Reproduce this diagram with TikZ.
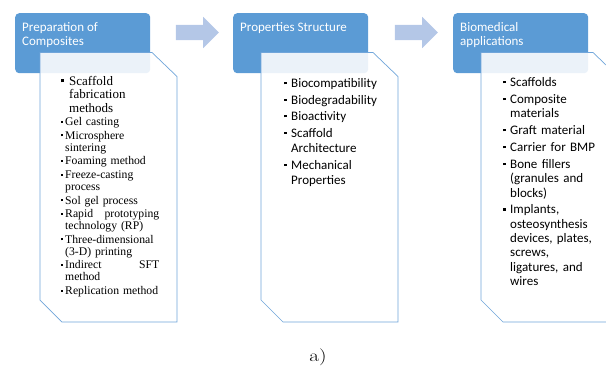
\documentclass[tikz,border=0pt]{standalone}
\usepackage{fontspec}
\usepackage{enumitem}
\usetikzlibrary{shapes.arrows}
\newfontfamily\calfont{Carlito}
\newfontfamily\timesfont{Liberation Serif}
\definecolor{headblue}{HTML}{5B9BD5}
\definecolor{arrowblue}{HTML}{B4C7E7}
\definecolor{edgeblue}{HTML}{70A5DA}
\newcommand{\sqbullet}[1]{\rule[0.25em]{#1}{#1}}
\newlist{boxlist}{itemize}{1}
\setlist[boxlist]{label=\sqbullet{2.4pt}, leftmargin=8pt, labelsep=4.5pt,
  topsep=0pt, partopsep=0pt, parsep=0pt, itemsep=2pt}

\begin{document}
\begin{tikzpicture}[x=1pt, y=-1pt]
  \tikzset{headbox/.style={fill=headblue, rounded corners=4pt, minimum width=135pt,
             minimum height=60pt, anchor=north west, inner sep=0pt},
           listbox/.style={draw=edgeblue, fill=white, fill opacity=0.88, line width=0.7pt},
           headtext/.style={anchor=north west, text=white, align=left, inner sep=0pt,
             font=\calfont\fontsize{13}{14}\selectfont},
           listtext/.style={anchor=north west, inner sep=0pt, text width=#1},
           blockarrow/.style={single arrow, fill=arrowblue, minimum height=43pt,
             inner xsep=0pt, inner ysep=7.5pt, single arrow head extend=8pt}}
  \useasboundingbox (0,0) rectangle (606,365);
  \clip (0,0) rectangle (606,365);

  % headers
  \node[headbox] (prep) at (15,13) {};
  \node[headbox] (prop) at (233,13) {};
  \node[headbox] (appl) at (453,13) {};
  \node[blockarrow] (arrA) at (193.5,32.5) {};
  \node[blockarrow] (arrB) at (412.5,32.5) {};

  % lower boxes
  \foreach \bx in {40,261,481}
    \draw[listbox] (\bx,52.5) -- ++(112,0) -- ++(25,24) -- ++(0,245.5)
      -- ++(-115,0) -- ++(-22,-22) -- cycle;

  \node[headtext] (prepT) at ([shift={(7,9)}]prep.north west) {Preparation of\\Composites};
  \node[headtext] (propT) at ([shift={(7,9)}]prop.north west) {Properties Structure};
  \node[headtext] (applT) at ([shift={(7,9)}]appl.north west) {Biomedical\\applications};

  % lists
  \node[listtext=98pt, font=\timesfont\fontsize{13}{13.3}\selectfont] (scaf) at (61,72) {%
    \begin{boxlist}[label=\sqbullet{3pt}, labelsep=5pt]
      \item Scaffold\newline fabrication\newline methods
    \end{boxlist}};
  \node[listtext=102pt, font=\timesfont\fontsize{11.7}{12}\selectfont] (meth) at (57,113.5) {%
    \begin{boxlist}[label=\sqbullet{2pt}, labelsep=2.5pt, itemsep=1.6pt]
      \item Gel casting
      \item Microsphere\newline sintering
      \item Foaming method
      \item Freeze-casting\newline process
      \item Sol gel process
      \item Rapid\hfill prototyping\newline technology (RP)
      \item Three-dimensional\newline (3-D) printing
      \item Indirect\hfill SFT\newline method
      \item Replication method
    \end{boxlist}};
  \node[listtext=112pt, font=\calfont\fontsize{13}{15.5}\selectfont] (propL) at (283,72) {%
    \begin{boxlist}[itemsep=1pt]
      \item Biocompatibility
      \item Biodegradability
      \item Bioactivity
      \item Scaffold\newline Architecture
      \item Mechanical\newline Properties
    \end{boxlist}};
  \node[listtext=100pt, font=\calfont\fontsize{13}{14.3}\selectfont] (applL) at (502,72) {%
    \begin{boxlist}[itemsep=2.6pt]
      \item Scaffolds
      \item Composite\newline materials
      \item Graft material
      \item Carrier for BMP
      \item Bone fillers\newline (granules and\newline blocks)
      \item Implants,\newline osteosynthesis\newline devices, plates,\newline screws,\newline ligatures, and\newline wires
    \end{boxlist}};

  \node[anchor=base, font=\fontsize{17}{20}\selectfont] (cap) at (318,361) {\scalebox{1.25}[1]{a)}};
\end{tikzpicture}
\end{document}
